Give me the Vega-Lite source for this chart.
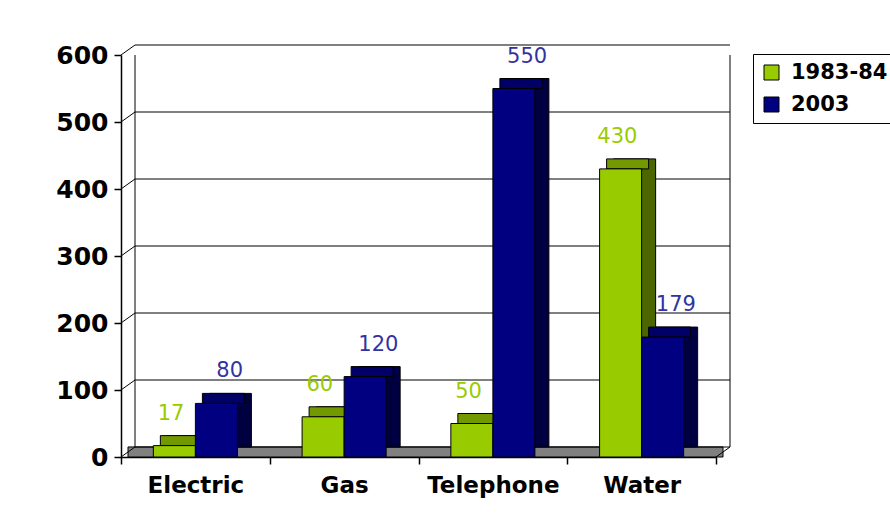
{
  "$schema": "https://vega.github.io/schema/vega-lite/v6.json",
  "width": 595,
  "height": 402,
  "autosize": {"type": "none"},
  "padding": {"left": 121, "top": 55, "right": 174, "bottom": 60},
  "background": "white",
  "config": {"view": {"stroke": null}, "font": "DejaVu Sans"},
  "datasets": {
    "bars": [
      {"category": "Electric", "series": "1983-84", "value": 17},
      {"category": "Electric", "series": "2003", "value": 80},
      {"category": "Gas", "series": "1983-84", "value": 60},
      {"category": "Gas", "series": "2003", "value": 120},
      {"category": "Telephone", "series": "1983-84", "value": 50},
      {"category": "Telephone", "series": "2003", "value": 550},
      {"category": "Water", "series": "1983-84", "value": 430},
      {"category": "Water", "series": "2003", "value": 179}
    ],
    "grid": [{"v": 0}, {"v": 100}, {"v": 200}, {"v": 300}, {"v": 400}, {"v": 500}, {"v": 600}],
    "one": [{"k": 1}]
  },
  "resolve": {"scale": {"color": "independent", "x": "independent", "xOffset": "independent"}, "axis": {"x": "independent"}},
  "layer": [
    {
      "data": {"name": "one"},
      "mark": {"type": "rect", "fill": "#808080", "stroke": "black", "strokeWidth": 1},
      "encoding": {
        "x": {"datum": 0, "type": "quantitative", "scale": {"domain": [0, 1], "range": [7, 602]}, "axis": null},
        "x2": {"datum": 1},
        "y": {"datum": 0, "type": "quantitative", "scale": {"domain": [0, 600], "nice": false}, "title": null},
        "y2": {"datum": 15}
      }
    },
    {
      "data": {"name": "grid"},
      "mark": {"type": "rule", "color": "black", "strokeWidth": 1, "yOffset": -10},
      "encoding": {
        "x": {"datum": 0, "type": "quantitative", "scale": {"domain": [0, 1], "range": [14, 609]}, "axis": null},
        "x2": {"datum": 1},
        "y": {"field": "v", "type": "quantitative", "title": null}
      }
    },
    {
      "data": {"name": "grid"},
      "mark": {"type": "rule", "color": "black", "strokeWidth": 1, "x2Offset": 14, "y2Offset": -10},
      "encoding": {
        "x": {"datum": 0, "type": "quantitative", "scale": {"domain": [0, 1], "range": [0, 595]}, "axis": null},
        "x2": {"datum": 0},
        "y": {"field": "v", "type": "quantitative", "title": null},
        "y2": {"field": "v"}
      }
    },
    {
      "data": {"name": "one"},
      "mark": {"type": "rule", "color": "black", "strokeWidth": 1, "yOffset": -10},
      "encoding": {
        "x": {"datum": 0, "type": "quantitative", "scale": {"domain": [0, 1], "range": [14, 609]}, "axis": null},
        "y": {"datum": 0, "type": "quantitative", "title": null},
        "y2": {"datum": 600}
      }
    },
    {
      "data": {"name": "one"},
      "mark": {"type": "rule", "color": "black", "strokeWidth": 1, "yOffset": -10},
      "encoding": {
        "x": {"datum": 1, "type": "quantitative", "scale": {"domain": [0, 1], "range": [14, 609]}, "axis": null},
        "y": {"datum": 0, "type": "quantitative", "title": null},
        "y2": {"datum": 600}
      }
    },
    {
      "data": {"name": "one"},
      "mark": {"type": "rule", "color": "black", "strokeWidth": 1, "x2Offset": 14, "y2Offset": -10},
      "encoding": {
        "x": {"datum": 1, "type": "quantitative", "scale": {"domain": [0, 1], "range": [0, 595]}, "axis": null},
        "x2": {"datum": 1},
        "y": {"datum": 0, "type": "quantitative", "title": null},
        "y2": {"datum": 0}
      }
    },
    {
      "data": {"name": "bars"},
      "mark": {"type": "bar", "stroke": "black", "strokeWidth": 1, "yOffset": -10},
      "encoding": {
        "x": {"field": "category", "type": "nominal", "sort": ["Electric", "Gas", "Telephone", "Water"], "scale": {"paddingInner": 0, "paddingOuter": 0, "range": [14, 609]}, "axis": null},
        "xOffset": {"field": "series", "type": "nominal", "scale": {"paddingInner": 0, "paddingOuter": 0.77}},
        "y": {"field": "value", "type": "quantitative", "title": null},
        "color": {"field": "series", "type": "nominal", "scale": {"range": ["#4c6600", "#000040"]}, "legend": null}
      }
    },
    {
      "data": {"name": "bars"},
      "mark": {"type": "bar", "stroke": "black", "strokeWidth": 1, "yOffset": -10, "y2Offset": 0},
      "encoding": {
        "x": {"field": "category", "type": "nominal", "sort": ["Electric", "Gas", "Telephone", "Water"], "scale": {"paddingInner": 0, "paddingOuter": 0, "range": [7, 602]}, "axis": null},
        "xOffset": {"field": "series", "type": "nominal", "scale": {"paddingInner": 0, "paddingOuter": 0.77}},
        "y": {"field": "value", "type": "quantitative", "title": null},
        "y2": {"field": "value"},
        "color": {"field": "series", "type": "nominal", "scale": {"range": ["#739900", "#000066"]}, "legend": null}
      }
    },
    {
      "data": {"name": "bars"},
      "mark": {"type": "bar", "stroke": "black", "strokeWidth": 1},
      "encoding": {
        "x": {
          "field": "category", "type": "nominal", "sort": ["Electric", "Gas", "Telephone", "Water"],
          "scale": {"paddingInner": 0, "paddingOuter": 0},
          "axis": {
            "title": null, "labelAngle": 0, "labelFont": "DejaVu Sans", "labelFontWeight": "bold",
            "labelFontSize": 23, "labelColor": "black", "labelPadding": 10,
            "domainColor": "black", "domainWidth": 1.5, "tickColor": "black", "tickWidth": 1.5,
            "tickSize": 7, "tickBand": "extent"
          }
        },
        "xOffset": {"field": "series", "type": "nominal", "scale": {"paddingInner": 0, "paddingOuter": 0.77}},
        "y": {
          "field": "value", "type": "quantitative",
          "scale": {"domain": [0, 600], "nice": false},
          "axis": {
            "title": null, "values": [0, 100, 200, 300, 400, 500, 600], "grid": false,
            "labelFont": "DejaVu Sans", "labelFontWeight": "bold", "labelFontSize": 25, "labelColor": "black",
            "labelPadding": 6, "domainColor": "black", "domainWidth": 1.5, "tickColor": "black",
            "tickWidth": 1.5, "tickSize": 7
          }
        },
        "color": {
          "field": "series", "type": "nominal",
          "scale": {"domain": ["1983-84", "2003"], "range": ["#99cc00", "#000080"]},
          "legend": {
            "title": null, "orient": "none", "legendX": 632, "legendY": -1,
            "symbolType": "square", "symbolSize": 225, "symbolStrokeColor": "black", "symbolStrokeWidth": 1,
            "labelFont": "DejaVu Sans", "labelFontWeight": "bold", "labelFontSize": 21, "labelColor": "black",
            "labelOffset": 9, "rowPadding": 10, "padding": 8,
            "strokeColor": "black", "fillColor": "white"
          }
        }
      }
    },
    {
      "data": {"name": "bars"},
      "mark": {"type": "text", "font": "DejaVu Sans", "fontSize": 21, "baseline": "middle", "align": "center", "dy": -32},
      "encoding": {
        "x": {"field": "category", "type": "nominal", "sort": ["Electric", "Gas", "Telephone", "Water"], "scale": {"paddingInner": 0, "paddingOuter": 0, "range": [5, 600]}, "axis": null},
        "xOffset": {"field": "series", "type": "nominal", "scale": {"paddingInner": 0, "paddingOuter": 0.77}},
        "y": {"field": "value", "type": "quantitative", "title": null},
        "text": {"field": "value", "type": "quantitative"},
        "color": {"field": "series", "type": "nominal", "scale": {"range": ["#99cc00", "#3333a0"]}, "legend": null}
      }
    }
  ]
}
